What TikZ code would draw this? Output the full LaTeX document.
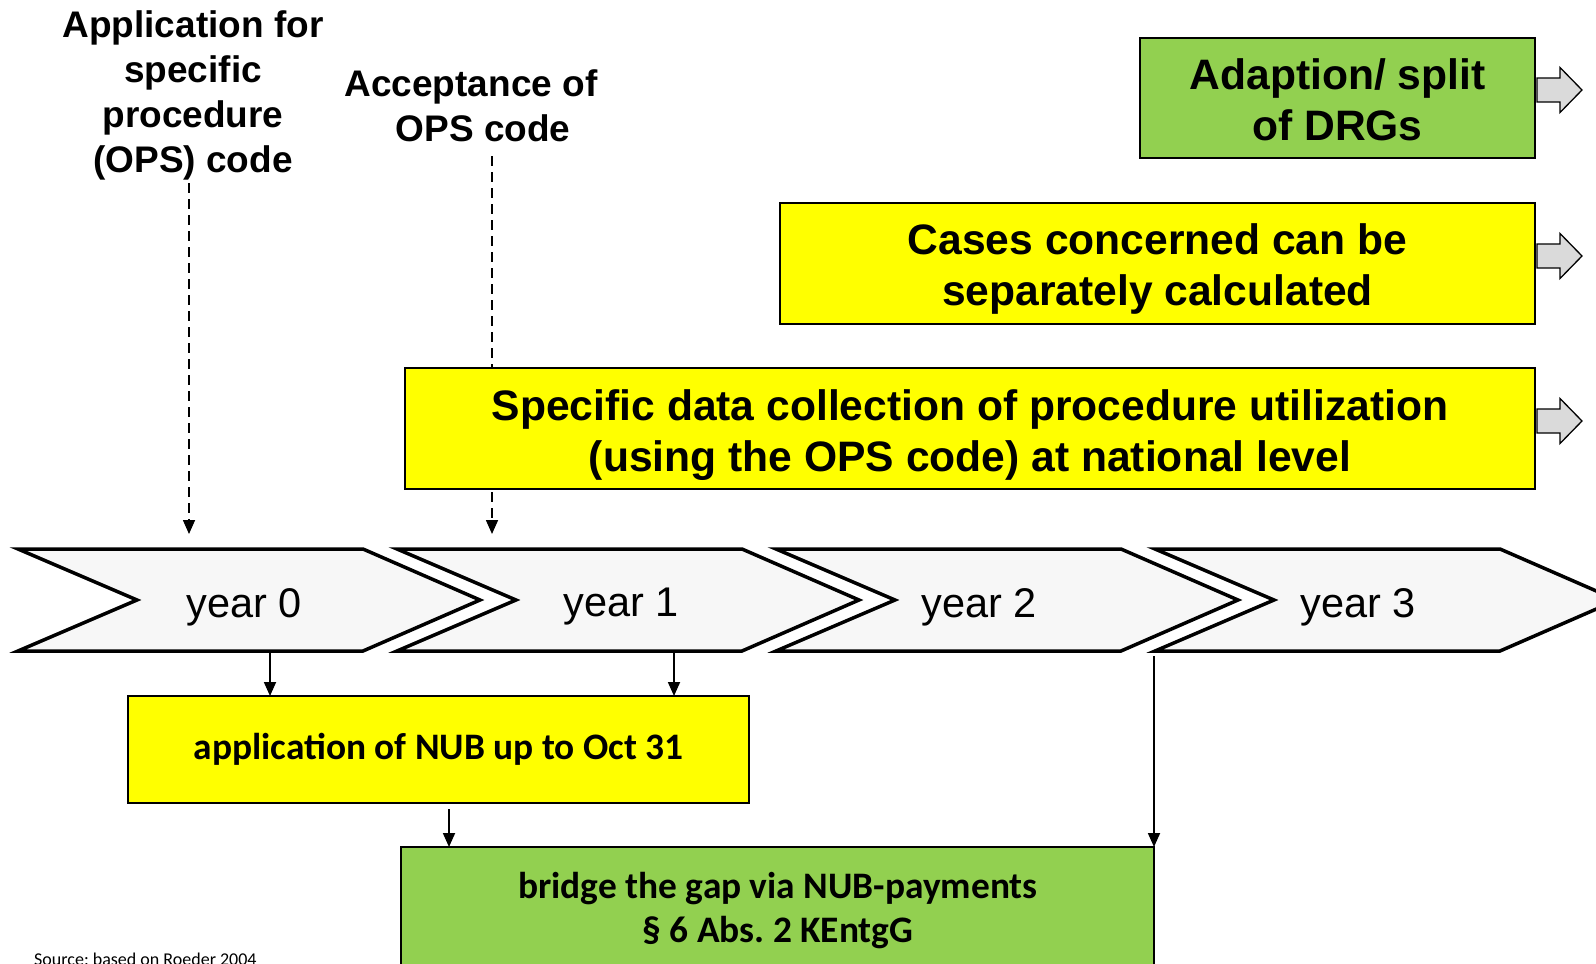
\documentclass[tikz,border=0pt]{standalone}
\usepackage{fontspec}
\setmainfont{Liberation Sans}
\newfontfamily\carlitofont{Carlito}
\usetikzlibrary{arrows.meta}
\definecolor{drgreen}{HTML}{92D050}
\definecolor{ylw}{HTML}{FFFF00}
\definecolor{arrgray}{HTML}{DADADA}
\definecolor{chevgray}{HTML}{F7F7F7}
\tikzset{
  box/.style={draw=black, line width=2pt, inner sep=0pt, outer sep=0pt, anchor=north west, align=center},
  bigtxt/.style={font=\fontsize{42.6}{51}\selectfont\bfseries},
  titletxt/.style={font=\fontsize{37}{45}\selectfont\bfseries, align=center, inner sep=0pt, anchor=north},
  yeartxt/.style={font=\fontsize{41.5}{48}\selectfont, inner sep=0pt},
  caltxt/.style={font=\fontsize{37.4}{44}\selectfont\carlitofont\bfseries, align=center, inner sep=0pt},
  chev/.style={draw=black, fill=chevgray, line width=3.5pt, miter limit=10},
  arr/.style={line width=1.8pt, -{Triangle[width=12pt,length=14pt]}},
  dasharr/.style={line width=1.6pt, dash pattern=on 10pt off 6pt, -{Triangle[width=12pt,length=14pt]}},
  grayarrow/.pic={\draw[fill=arrgray, line width=1.3pt] (0,-12)--(23,-12)--(23,-22.5)--(45,0)--(23,22.5)--(23,12)--(0,12)--cycle;}
}
\begin{document}
\frenchspacing
\begin{tikzpicture}[x=1pt,y=-1pt]
\clip (0,0) rectangle (1596,964);
\fill[white] (0,0) rectangle (1596,964);

% titles
\node[titletxt] (t1) at (193,10) {Application for\\specific\\procedure\\(OPS) code};
\node[titletxt] (t2) at (477,69) {Acceptance of\kern12pt\\\kern12pt OPS code};

% dashed connectors (behind boxes)
\coordinate (d1s) at (189,183);
\coordinate (d1e) at (189,534);
\coordinate (d2s) at (492,156);
\coordinate (d2e) at (492,534);
\draw[dasharr] (d1s) -- (d1e);
\draw[dasharr] (d2s) -- (d2e);

% top boxes
\node[box, fill=drgreen, minimum width=395pt, minimum height=120pt] (drg) at (1140,38) {};
\node[bigtxt, align=center, inner sep=0pt] (drgtxt) at ([yshift=-2pt]drg.center) {Adaption/ split\\of DRGs};
\node[box, fill=ylw, minimum width=755pt, minimum height=121pt] (cases) at (780,203) {};
\node[bigtxt, align=center, inner sep=0pt] (casestxt) at ([yshift=-5pt]cases.center) {Cases concerned can be\\separately calculated};
\node[box, fill=ylw, minimum width=1130pt, minimum height=121pt] (data) at (405,368) {};
\node[bigtxt, align=center, inner sep=0pt] (datatxt) at ([yshift=-7pt]data.center) {Specific data collection of procedure utilization\\(using the OPS code) at national level};

\pic at (1537,90) {grayarrow};
\pic at (1537,256) {grayarrow};
\pic at (1537,421) {grayarrow};

% chevrons
\foreach \k in {0,1,2,3} {
  \pgfmathsetmacro{\xo}{18+379*\k}
  \draw[chev] (\xo,549) -- ++(345,0) -- ++(117,51) -- ++(-117,51) -- ++(-345,0) -- ++(119,-51) -- cycle;
}
\node[yeartxt] (y0) at (244,607) {year 0};
\node[yeartxt] (y1) at (621,607) {year 1};
\node[yeartxt] (y2) at (979,607) {year 2};
\node[yeartxt] (y3) at (1358,607) {year 3};

% bottom boxes
\node[box, fill=ylw, minimum width=621pt, minimum height=107pt, caltxt] (nub) at (128,696) {application of NUB up to Oct 31};
\node[box, fill=drgreen, minimum width=753pt, minimum height=160pt] (bridge) at (401,847) {};
\node[caltxt] (bridgetxt) at (778,911) {bridge the gap via NUB-payments\\\S\ 6 Abs. 2 KEntgG};

% solid connectors
\coordinate (c0) at (270,653);
\coordinate (c1) at (674,653);
\coordinate (c2) at (449,809);
\coordinate (c3) at (1154,656);
\draw[arr] (c0) -- (c0 |- nub.north);
\draw[arr] (c1) -- (c1 |- nub.north);
\draw[arr] (c2) -- (c2 |- bridge.north);
\draw[arr] (c3) -- (bridge.north east);

\node[font=\fontsize{18}{22}\selectfont\carlitofont, anchor=base west, inner sep=0pt] (src) at (34,965) {Source: based on Roeder 2004};
\end{tikzpicture}
\end{document}
